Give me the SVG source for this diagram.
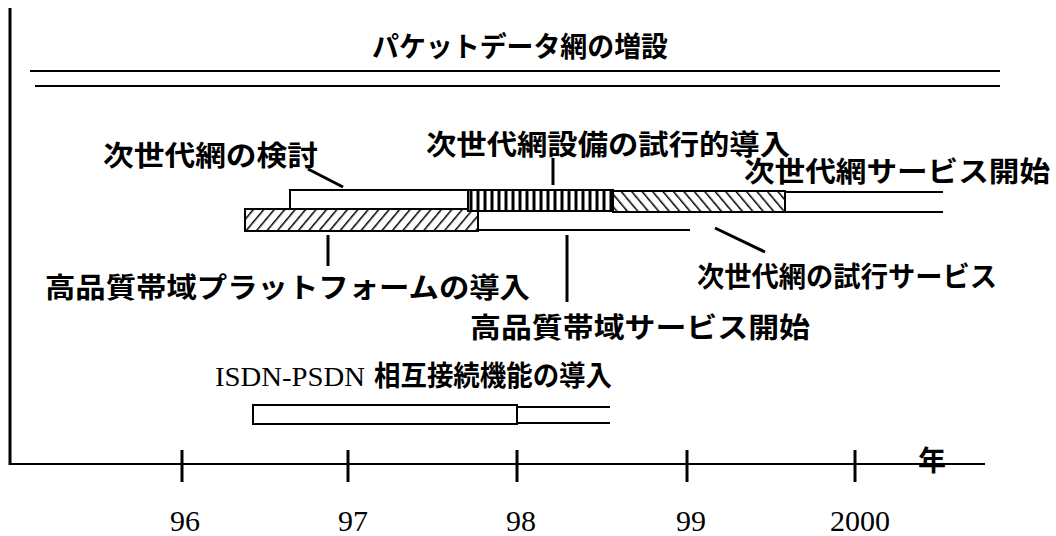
<svg xmlns="http://www.w3.org/2000/svg" width="1056" height="536" viewBox="0 0 1056 536">
<style>
.jp{font-family:"Noto Sans CJK JP","Noto Sans CJK SC",sans-serif;font-weight:bold;font-size:28px;fill:#000}
.num{font-family:"Liberation Serif",serif;font-size:30px;fill:#000;text-anchor:middle}
.ln{stroke:#000;stroke-width:2;fill:none}
.lead{stroke:#000;stroke-width:3;fill:none}
.bar{stroke:#000;stroke-width:2}
</style>
<defs>
<pattern id="fwd" patternUnits="userSpaceOnUse" width="8" height="8" patternTransform="rotate(40)">
<rect width="8" height="8" fill="#fff"/>
<line x1="0" y1="0" x2="0" y2="8" stroke="#000" stroke-width="3"/>
</pattern>
<pattern id="bwd" patternUnits="userSpaceOnUse" width="8" height="8" patternTransform="rotate(-40)">
<rect width="8" height="8" fill="#fff"/>
<line x1="0" y1="0" x2="0" y2="8" stroke="#000" stroke-width="3"/>
</pattern>
<pattern id="vert" patternUnits="userSpaceOnUse" width="7" height="8">
<rect width="7" height="8" fill="#fff"/>
<line x1="2" y1="0" x2="2" y2="8" stroke="#000" stroke-width="3"/>
</pattern>
</defs>
<rect width="1056" height="536" fill="#fff"/>

<g id="frame">
<line x1="10" y1="8" x2="10" y2="465" stroke="#000" stroke-width="3"/>
<line x1="10" y1="464" x2="985" y2="464" class="ln"/>
<line x1="30" y1="71" x2="1000" y2="71" class="ln"/>
<line x1="35" y1="86" x2="1000" y2="86" class="ln"/>
<text class="jp" x="372" y="57" font-size="30" textLength="296" lengthAdjust="spacingAndGlyphs">パケットデータ網の増設</text>
</g>

<g id="axis">
<line x1="182" y1="450" x2="182" y2="482" class="lead"/>
<line x1="348" y1="450" x2="348" y2="482" class="lead"/>
<line x1="517" y1="450" x2="517" y2="482" class="lead"/>
<line x1="687" y1="450" x2="687" y2="482" class="lead"/>
<line x1="855" y1="450" x2="855" y2="482" class="lead"/>
<text class="num" x="185" y="531">96</text>
<text class="num" x="353" y="531">97</text>
<text class="num" x="521" y="531">98</text>
<text class="num" x="691" y="531">99</text>
<text class="num" x="860" y="531">2000</text>
<text class="jp" x="918" y="471" font-size="27">年</text>
</g>

<g id="node-kento">
<rect x="290" y="190" width="178" height="19" fill="#fff" class="bar"/>
<text class="jp" x="103" y="166" textLength="215" lengthAdjust="spacingAndGlyphs">次世代網の検討</text>
</g>

<g id="node-platform">
<rect x="245" y="209" width="233" height="22" fill="url(#fwd)" class="bar"/>
<text class="jp" x="45" y="298" textLength="485" lengthAdjust="spacingAndGlyphs">高品質帯域プラットフォームの導入</text>
</g>

<g id="node-setsubi">
<rect x="468" y="190" width="145" height="21" fill="url(#vert)" class="bar"/>
<text class="jp" x="426" y="155" textLength="364" lengthAdjust="spacingAndGlyphs">次世代網設備の試行的導入</text>
</g>

<g id="node-shiko">
<rect x="613" y="191" width="172" height="21" fill="url(#bwd)" class="bar"/>
<text class="jp" x="697" y="287" textLength="300" lengthAdjust="spacingAndGlyphs">次世代網の試行サービス</text>
</g>

<g id="node-kaishi">
<line x1="785" y1="192" x2="943" y2="192" class="ln"/>
<line x1="785" y1="212" x2="943" y2="212" class="ln"/>
<text class="jp" x="744" y="182" textLength="306" lengthAdjust="spacingAndGlyphs">次世代網サービス開始</text>
</g>

<g id="node-hq-service">
<line x1="478" y1="230" x2="690" y2="230" class="ln"/>
<text class="jp" x="470" y="338" textLength="340" lengthAdjust="spacingAndGlyphs">高品質帯域サービス開始</text>
</g>

<g id="node-isdn">
<rect x="253" y="405" width="264" height="19" fill="#fff" class="bar"/>
<line x1="517" y1="407" x2="610" y2="407" class="ln"/>
<line x1="517" y1="423" x2="610" y2="423" class="ln"/>
<text x="215" y="386" font-family="Liberation Serif,Noto Sans CJK JP,serif" font-size="28"><tspan textLength="150" lengthAdjust="spacingAndGlyphs">ISDN-PSDN</tspan><tspan x="374" font-family="Noto Sans CJK JP,sans-serif" font-weight="bold" textLength="238" lengthAdjust="spacingAndGlyphs">相互接続機能の導入</tspan></text>
</g>

<g id="connectors">
<line x1="308" y1="169" x2="343" y2="187" class="lead"/>
<line x1="553" y1="158" x2="553" y2="185" class="lead"/>
<line x1="328" y1="235" x2="328" y2="266" class="lead"/>
<line x1="567" y1="235" x2="567" y2="302" class="lead"/>
<line x1="715" y1="228" x2="765" y2="252" class="lead"/>
</g>
</svg>
